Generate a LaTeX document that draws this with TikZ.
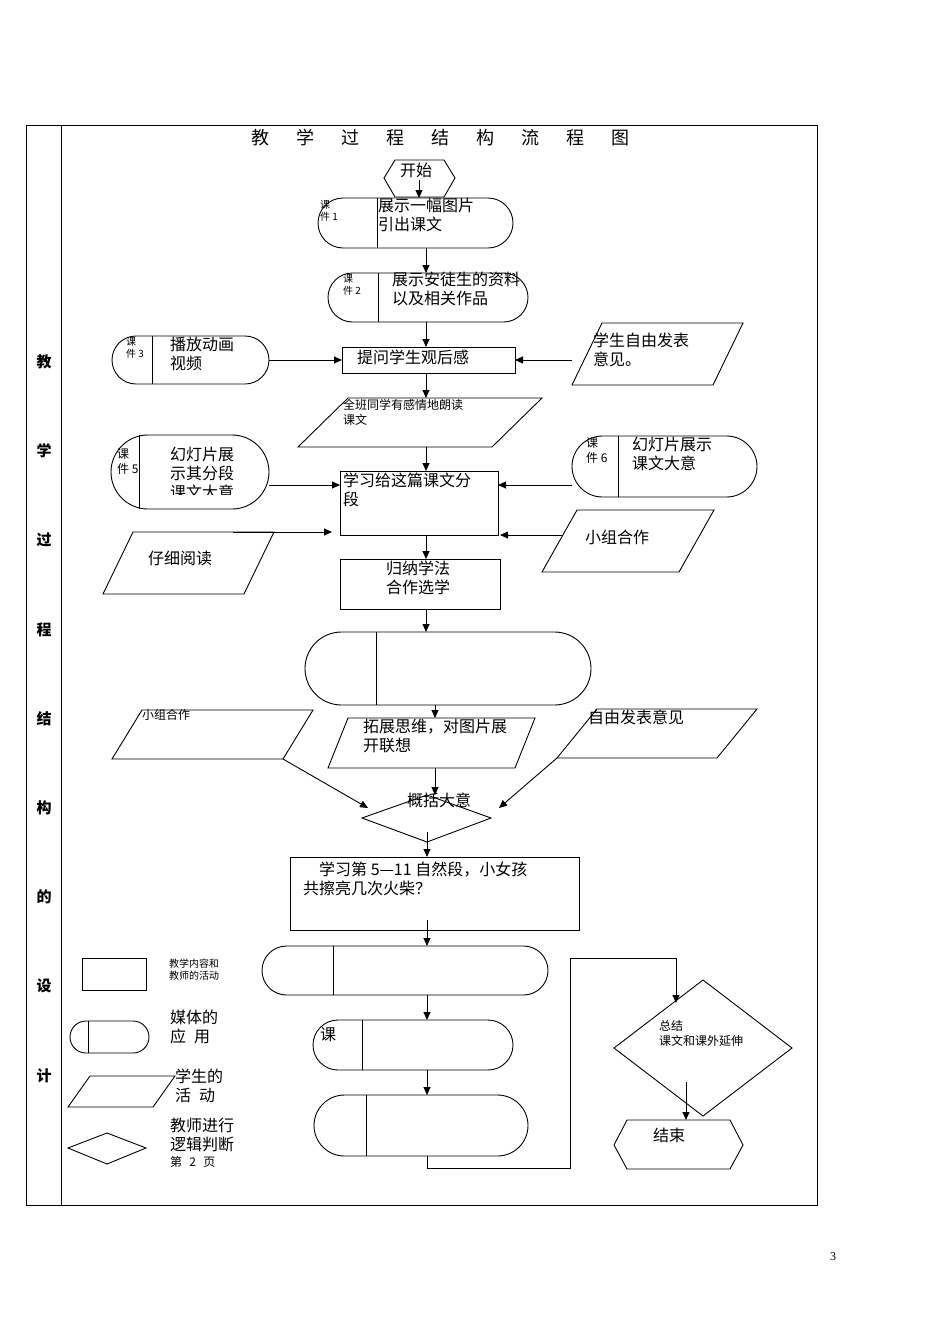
\documentclass[tikz,border=0pt]{standalone}
\usepackage{fontspec}
\setmainfont{Liberation Serif}
\newfontfamily\cjk{Noto Sans CJK SC}
\usetikzlibrary{arrows.meta}
\tikzset{
 ln/.style={line width=0.9pt},
 arr/.style={ln,-{Triangle[length=8pt,width=7pt]}},
 tx/.style={anchor=north west,align=left,inner sep=0pt,font=\cjk\fontsize{16}{19}\selectfont},
 sm/.style={anchor=north west,align=left,inner sep=0pt,font=\cjk\fontsize{12}{15}\selectfont},
 xs/.style={anchor=north west,align=left,inner sep=0pt,font=\cjk\fontsize{10}{12}\selectfont},
}
\newcommand\mediabox[5]{\pgfmathsetmacro\rr{(#4-#2)/2}\draw[ln,rounded corners=\rr pt] (#1,#2) rectangle (#3,#4); \draw[ln] (#5,#2) -- (#5,#4);}
\newcommand\para[5]{\draw[ln] ({#1+#5},#2) -- (#3,#2) -- ({#3-#5},#4) -- (#1,#4) -- cycle;}
\begin{document}
\begin{tikzpicture}[x=1pt,y=-1pt]
\useasboundingbox (0,0) rectangle (950,1344);
% table
\draw[ln] (26,125) rectangle (817,1205);
\draw[ln] (61,125) -- (61,1205);
\foreach \c/\y in {教/362,学/451,过/540,程/630,结/719,构/808,的/897,设/986,计/1076}
  \node[font=\cjk\bfseries\fontsize{15}{15}\selectfont] at (44,\y) {\c};
\node[font=\cjk\fontsize{18}{18}\selectfont] (title) at (440,138) {教\hspace{1.5em}学\hspace{1.5em}过\hspace{1.5em}程\hspace{1.5em}结\hspace{1.5em}构\hspace{1.5em}流\hspace{1.5em}程\hspace{1.5em}图};
% start
\draw[ln] (384,178) -- (395,160) -- (444,160) -- (455,178) -- (444,197) -- (395,197) -- cycle;
\node[tx] (start) at (400,163) {开始};
% media 1
\mediabox{318}{198}{513}{248}{377}
\node[xs] (k1) at (320,200) {课\\件 1};
\node[tx] (m1) at (378,198) {展示一幅图片\\引出课文};
% media 2
\mediabox{328}{273}{528}{322}{378}
\node[xs] (k2) at (343,274) {课\\件 2};
\node[tx] (m2) at (392,272) {展示安徒生的资料\\以及相关作品};
% box ask
\draw[ln] (342,347) rectangle (515,373);
\node[tx] (ask) at (357,350) {提问学生观后感};
% media 3
\mediabox{112}{336}{269}{384}{152}
\node[xs] (k3) at (126,337) {课\\件 3};
\node[tx] (m3) at (170,337) {播放动画\\视频};
% para right
\para{572}{323}{743}{385}{30}
\node[tx] (p1) at (593,333) {学生自由发表\\意见。};
% para read
\para{298}{398}{542}{447}{50}
\node[sm] (p2) at (343,399) {全班同学有感情地朗读\\课文};
% media 5
\mediabox{111}{435}{269}{509}{139}
\node[sm] (k5) at (117,448) {课\\件 5};
\begin{scope}\clip (139,440) rectangle (268,494);
\node[tx] (m5) at (170,447) {幻灯片展\\示其分段\\课文大意};
\end{scope}
% media 6
\mediabox{572}{436}{757}{497}{618}
\node[sm] (k6) at (586,437) {课\\件 6};
\node[tx] (m6) at (632,437) {幻灯片展示\\课文大意};
% box fen
\draw[ln] (340,471) rectangle (498,535);
\node[tx] (fen) at (343,473) {学习给这篇课文分\\段};
% para 仔细阅读
\para{103}{532}{274}{594}{30}
\node[tx] (p3) at (148,551) {仔细阅读};
% para 小组合作
\para{542}{510}{714}{572}{35}
\node[tx] (p4) at (585,530) {小组合作};
% box 归纳
\draw[ln] (340,559) rectangle (500,609);
\node[tx] (gui) at (386,561) {归纳学法\\合作选学};
% big media
\mediabox{305}{632}{591}{705}{376}
% paras row
\para{328}{718}{535}{768}{20}
\node[tx] (p5) at (363,719) {拓展思维，对图片展\\开联想};
\para{112}{710}{313}{759}{30}
\node[sm] (p6) at (142,709) {小组合作};
\para{557}{709}{757}{758}{40}
\node[tx] (p7) at (588,710) {自由发表意见};
% diamond
\draw[ln] (362,818) -- (427,795) -- (491,818) -- (427,842) -- cycle;
\node[tx] (gk) at (407,793) {概括大意};
% box 学习第5
\draw[ln] (290,857) rectangle (579,930);
\node[tx] (xx) at (303,862) {\hspace{1em}学习第 5—11 自然段，小女孩\\共擦亮几次火柴？};
% lower medias
\mediabox{262}{946}{548}{995}{333}
\mediabox{313}{1020}{513}{1070}{362}
\node[tx] (ke) at (320,1027) {课};
\mediabox{314}{1095}{528}{1156}{366}
% summary diamond
\draw[ln] (614,1048) -- (703,980) -- (792,1048) -- (703,1116) -- cycle;
\node[sm] (zj) at (659,1020) {总结\\课文和课外延伸};
% end hex
\draw[ln] (614,1145) -- (627,1120) -- (730,1120) -- (743,1145) -- (730,1169) -- (627,1169) -- cycle;
\node[tx] (end) at (653,1128) {结束};
% arrows
\draw[arr] (419,180) -- (419,198);
\draw[arr] (426,248) -- (426,273);
\draw[arr] (426,322) -- (426,347);
\draw[arr] (269,360) -- (342,360);
\draw[arr] (572,360) -- (515,360);
\draw[arr] (426,373) -- (426,398);
\draw[arr] (426,447) -- (426,471);
\draw[arr] (269,485) -- (340,485);
\draw[arr] (572,485) -- (498,485);
\draw[arr] (233,532) -- (332,532);
\draw[arr] (562,535) -- (500,535);
\draw[arr] (426,535) -- (426,559);
\draw[arr] (426,609) -- (426,632);
\draw[arr] (435,705) -- (435,718);
\draw[arr] (435,768) -- (435,795);
\draw[arr] (283,759) -- (368,808);
\draw[arr] (557,758) -- (499,808);
\draw[arr] (427,832) -- (427,857);
\draw[arr] (427,920) -- (427,946);
\draw[arr] (427,995) -- (427,1020);
\draw[arr] (427,1070) -- (427,1095);
\draw[ln] (427,1156) -- (427,1168) -- (570,1168) -- (570,958) -- (676,958);
\draw[arr] (676,958) -- (676,1003);
\draw[arr] (686,1082) -- (686,1120);
% legend
\draw[ln] (82,958) rectangle (146,990);
\node[xs] (l1) at (169,959) {教学内容和\\教师的活动};
\mediabox{70}{1021}{149}{1053}{88}
\node[tx] (l2) at (170,1010) {媒体的\\应\hspace{0.5em}用};
\para{68}{1076}{175}{1107}{22}
\node[tx] (l3) at (175,1069) {学生的\\活\hspace{0.5em}动};
\draw[ln] (68,1148) -- (107,1133) -- (146,1148) -- (107,1164) -- cycle;
\node[tx] (l4) at (170,1118) {教师进行\\逻辑判断};
\begin{scope}\clip (160,1155) rectangle (260,1167);
\node[sm] (pg2) at (170,1156) {第\hspace{0.6em}2\hspace{0.6em}页};
\end{scope}
\node[font=\fontsize{12}{12}\selectfont] (pn) at (833,1257) {3};
\end{tikzpicture}
\end{document}
